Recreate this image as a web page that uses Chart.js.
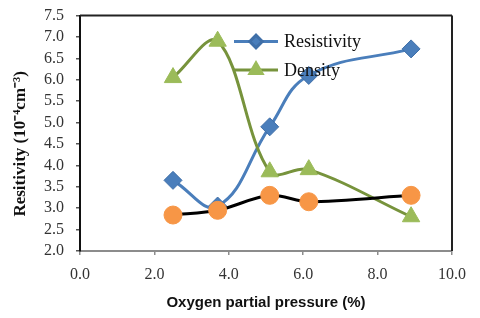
<!DOCTYPE html>
<html><head><meta charset="utf-8">
<script src="https://cdn.jsdelivr.net/npm/chart.js@4/dist/chart.umd.min.js"></script>
<style>html,body{margin:0;padding:0;background:#fff}#w{width:480px;height:318px;position:relative}</style>
</head><body><div id="w"><canvas id="c"></canvas></div>
<script>
const oxygen = [2.5, 3.7, 5.1, 6.15, 8.9];
const resistivity = [3.65, 3.05, 4.9, 6.1, 6.72];
const density = [6.05, 6.9, 3.85, 3.9, 2.8];
const thirdSeries = [2.84, 2.95, 3.3, 3.15, 3.3];
const xTickValues = [0, 2, 4, 6, 8, 10];
const yTickValues = [2.0, 2.5, 3.0, 3.5, 4.0, 4.5, 5.0, 5.5, 6.0, 6.5, 7.0, 7.5];
const seriesLabels = ['Resistivity', 'Density', ''];
const xTitle = 'Oxygen partial pressure (%)';
const yTitle = 'Resitivity (10\u207B\u2074cm\u207B\u00B3)';

const pts = (ys) => oxygen.map((x, i) => ({x, y: ys[i]}));

const framePlugin = {
  id: 'frame',
  beforeDatasetsDraw(chart) {
    const {ctx, chartArea: a} = chart;
    ctx.save();
    ctx.lineWidth = 2;
    ctx.strokeStyle = '#222';
    ctx.beginPath();
    ctx.moveTo(a.left, a.top); ctx.lineTo(a.right, a.top);
    ctx.moveTo(a.right, a.top); ctx.lineTo(a.right, a.bottom);
    ctx.stroke();
    ctx.restore();
  }
};

const legendPlugin = {
  id: 'innerLegend',
  afterDatasetsDraw(chart) {
    const {ctx, chartArea: a} = chart;
    const rows = chart.data.datasets.filter(d => d.label);
    ctx.save();
    rows.forEach((ds, r) => {
      const y = a.top + 26 + r * 28.5;
      const x0 = a.left + 154, x1 = a.left + 198;
      ctx.strokeStyle = ds.borderColor;
      ctx.lineWidth = 3;
      ctx.beginPath(); ctx.moveTo(x0, y); ctx.lineTo(x1, y); ctx.stroke();
      ctx.fillStyle = ds.pointBackgroundColor;
      ctx.strokeStyle = ds.pointBorderColor;
      Chart.helpers.drawPoint(ctx, {pointStyle: ds.pointStyle, radius: ds.pointRadius * 0.7, rotation: 0, borderWidth: 1}, (x0 + x1) / 2, y);
      ctx.fillStyle = '#111';
      ctx.font = '18px "Liberation Serif", "Times New Roman", serif';
      ctx.textBaseline = 'middle';
      ctx.textAlign = 'left';
      ctx.fillText(ds.label, x1 + 6, y + 1);
    });
    ctx.restore();
  }
};

new Chart(document.getElementById('c'), {
  type: 'scatter',
  data: {
    datasets: [
      {
        label: seriesLabels[0], data: pts(resistivity), showLine: true, order: 2,
        borderColor: '#4A7EBB', borderWidth: 3, tension: 0.42,
        pointStyle: 'rectRot', pointRadius: 9, pointBackgroundColor: '#4A7EBB', pointBorderColor: '#3F6FA8', pointBorderWidth: 1
      },
      {
        label: seriesLabels[1], data: pts(density), showLine: true, order: 1,
        borderColor: '#77933C', borderWidth: 3, tension: 0.35,
        pointStyle: 'triangle', pointRadius: 10, pointBackgroundColor: '#9BBB59', pointBorderColor: '#9BBB59', pointBorderWidth: 1
      },
      {
        label: seriesLabels[2], data: pts(thirdSeries), showLine: true, order: 0,
        borderColor: '#000', borderWidth: 3, tension: 0.3,
        pointStyle: 'circle', pointRadius: 9, pointBackgroundColor: '#F79646', pointBorderColor: '#F79646', pointBorderWidth: 1
      }
    ]
  },
  options: {
    responsive: true, maintainAspectRatio: false, animation: false,
    layout: {padding: {left: 0, top: 15.5, right: 28, bottom: 0}},
    plugins: {legend: {display: false}, tooltip: {enabled: false}},
    scales: {
      x: {
        type: 'linear', min: 0, max: 10,
        afterBuildTicks: (s) => { s.ticks = xTickValues.map(v => ({value: v})); },
        afterFit: (s) => { s.height = 67; s.paddingLeft = 0; s.paddingRight = 0; },
        border: {display: true, color: '#8c8c8c', width: 2},
        grid: {drawOnChartArea: false, drawTicks: true, tickLength: 4, color: '#8c8c8c', lineWidth: 1.5},
        ticks: {color: '#333', padding: 10, autoSkip: false, font: {family: '"Liberation Serif", "Times New Roman", serif', size: 16}, callback: (v) => Number(v).toFixed(1), maxRotation: 0},
        title: {display: true, text: xTitle, color: '#111', padding: 6, font: {family: '"Liberation Sans", Arial, sans-serif', size: 15, weight: 'bold'}}
      },
      y: {
        type: 'linear', min: 2, max: 7.5,
        afterBuildTicks: (s) => { s.ticks = yTickValues.map(v => ({value: v})); },
        afterFit: (s) => { s.width = 80; s.paddingTop = 0; s.paddingBottom = 0; },
        border: {display: true, color: '#111', width: 2},
        grid: {drawOnChartArea: false, drawTicks: true, tickLength: 4, color: '#555', lineWidth: 1.5},
        ticks: {color: '#333', padding: 12, autoSkip: false, font: {family: '"Liberation Serif", "Times New Roman", serif', size: 16}, callback: (v) => Number(v).toFixed(1)},
        title: {display: true, text: yTitle + '     ', color: '#111', padding: 10, font: {family: '"Liberation Serif", "Times New Roman", serif', size: 17, weight: 'bold'}}
      }
    }
  },
  plugins: [framePlugin, legendPlugin]
});
</script>
</body></html>
